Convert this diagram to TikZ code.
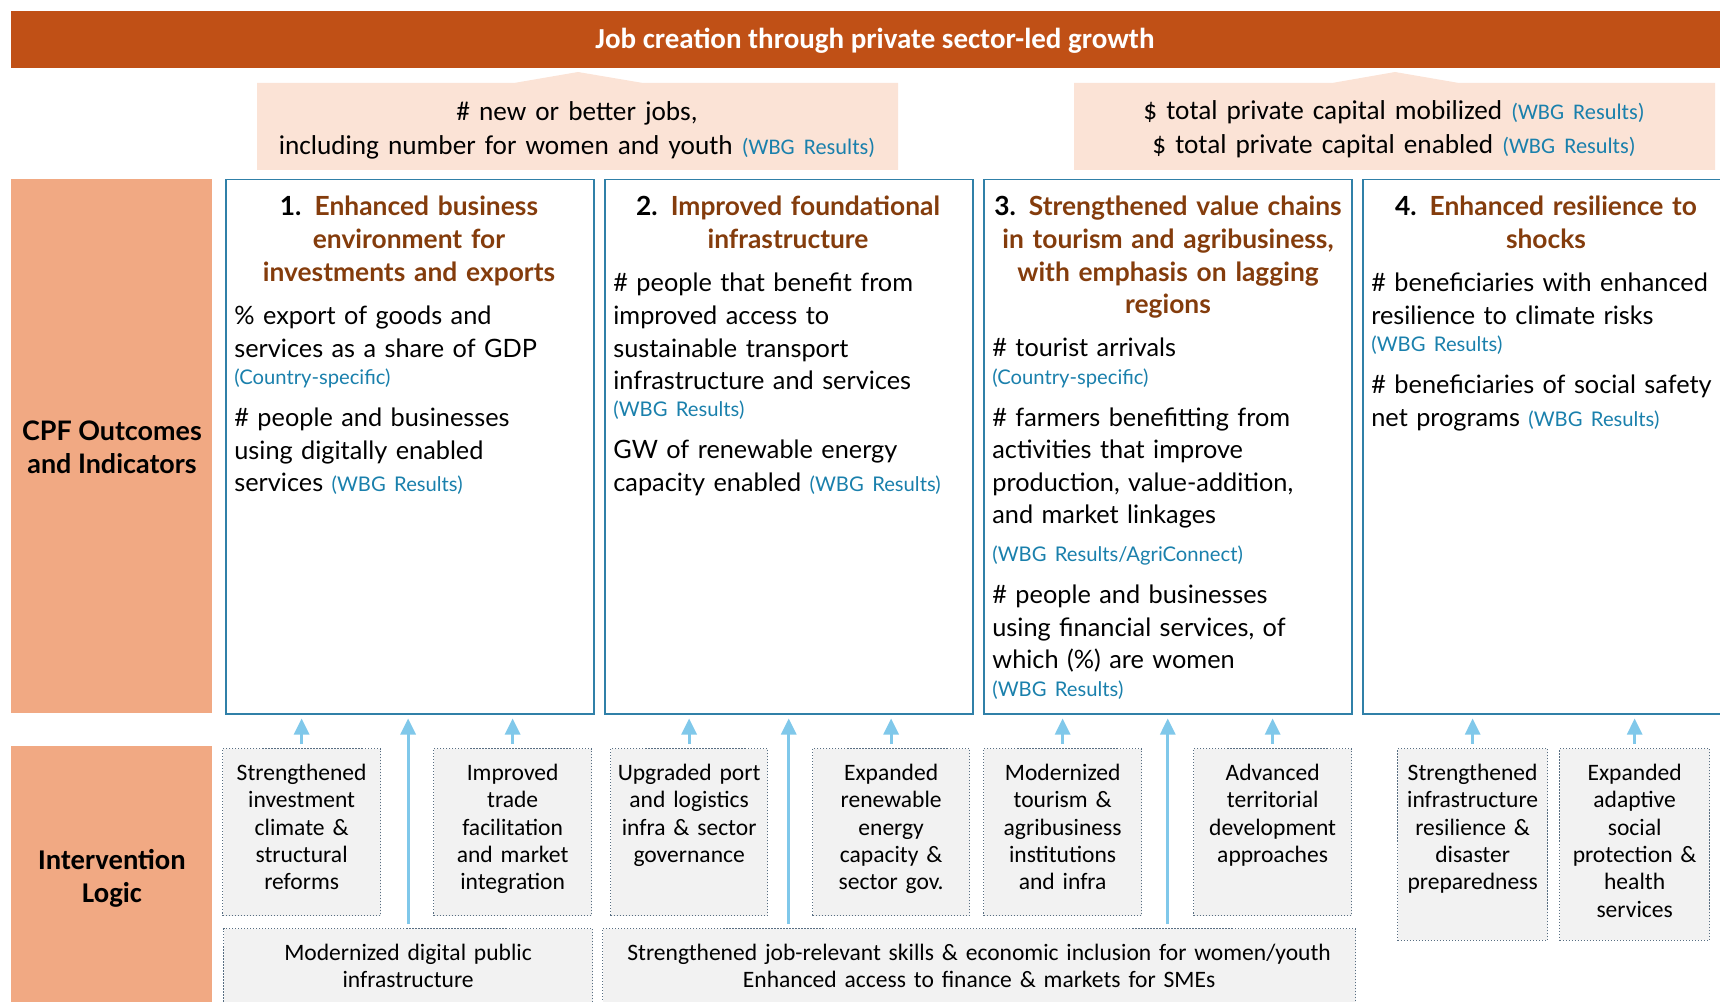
\documentclass[tikz,border=0pt]{standalone}
\usepackage{fontspec}
\setmainfont{Lato}
\newfontfamily\narrowfont{Carlito}
\usetikzlibrary{arrows.meta}

\definecolor{barorange}{RGB}{192,80,22}
\definecolor{peach}{RGB}{251,227,214}
\definecolor{salmon}{RGB}{241,169,131}
\definecolor{boxblue}{RGB}{48,128,168}
\definecolor{headbrown}{RGB}{132,60,12}
\definecolor{srcblue}{RGB}{26,128,172}
\definecolor{arrowblue}{RGB}{128,200,234}
\definecolor{levergray}{RGB}{242,242,242}
\definecolor{dotblue}{RGB}{88,110,130}

\newcommand{\srcnote}[1]{{\fontsize{11.5}{13}\selectfont\color{srcblue}#1}}
\newcommand{\srcnarrow}[1]{{\fontsize{12.7}{14}\selectfont\color{srcblue}#1}}
\newcommand{\idx}[1]{{\color{black}#1}}

\tikzset{
  callout/.style={anchor=base, text width=130mm, align=center, inner sep=0pt,
    font=\narrowfont\fontsize{15.5}{19}\selectfont},
  outcome/.style={draw=boxblue, line width=0.3mm, anchor=north west,
    minimum width=73.6mm, minimum height=106.8mm, inner sep=0pt},
  heading/.style={anchor=base, text width=90mm, align=center, inner sep=0pt,
    text=headbrown, font=\bfseries\fontsize{15}{18.5}\selectfont},
  body/.style={anchor=base west, text width=80mm, align=left, inner sep=0pt,
    font=\fontsize{14.4}{18.5}\selectfont},
  lever/.style={anchor=north west, fill=levergray, draw=dotblue, densely dotted,
    line width=0.25mm, inner sep=0pt, align=center, text height=18pt,
    font=\narrowfont\fontsize{13.4}{15.6}\selectfont},
  uparrow/.style={draw=arrowblue, line width=0.55mm, shorten >=0.8mm, shorten <=0.8mm,
    -{Triangle[width=3mm, length=3.2mm]}},
}

\begin{document}
\begin{tikzpicture}[x=0.2mm, y=-0.2mm]
  \useasboundingbox (0,0) rectangle (1720,1002);

  % goal bar
  \fill [barorange] (11,11) rectangle (1730,68);
  \node [text=white, font=\narrowfont\bfseries\fontsize{16.5}{18}\selectfont] (goal) at (875,41)
    {Job creation through private sector-led growth};

  % high-level indicators
  \fill [peach] (257,83) -- (514,83) -- (578,72) -- (643,83) -- (898,83)
    -- (898,170) -- (257,170) -- cycle;
  \fill [peach] (1074,83) -- (1332,83) -- (1395,72) -- (1459,83) -- (1715,83)
    -- (1715,170) -- (1074,170) -- cycle;
  \node [callout] (jobs) at (577,121)
    {\# new or better jobs,\\including number for women and youth \srcnarrow{(WBG Results)}};
  \node [callout] (capital) at (1394,120)
    {\$ total private capital mobilized \srcnarrow{(WBG Results)}\\\$ total private capital enabled \srcnarrow{(WBG Results)}};

  % row labels
  \fill [salmon] (11,179) rectangle (212,713);
  \fill [salmon] (11,746) rectangle (212,1010);
  \node [font=\bfseries\fontsize{15.3}{18.8}\selectfont, align=center] (cpf) at (112,447)
    {CPF Outcomes\\and Indicators};
  \node [font=\narrowfont\bfseries\fontsize{16.3}{18.8}\selectfont, align=center] (logic) at (112,878)
    {Intervention\\Logic};

  % CPF outcomes
  \node [outcome] (o1) at (225,179) {};
  \node [outcome] (o2) at (604,179) {};
  \node [outcome] (o3) at (983,179) {};
  \node [outcome] (o4) at (1362,179) {};

  \node [heading] (h1) at (409,216) {\idx{1.} Enhanced business\\environment for\\investments and exports};
  \node [heading] (h2) at (788,216) {\idx{2.} Improved foundational\\infrastructure};
  \node [heading] (h3) at (1168,216) {\idx{3.} Strengthened value chains\\in tourism and agribusiness,\\with emphasis on lagging\\regions};
  \node [heading] (h4) at (1546,216) {\idx{4.} Enhanced resilience to\\shocks};

  \node [body] (b1) at (234,325) {\% export of goods and\\services as a share of GDP\\[-3pt]
    \srcnote{(Country-specific)}\\[5.5pt]
    \# people and businesses\\using digitally enabled\\services \srcnote{(WBG Results)}};
  \node [body] (b2) at (613,292) {\# people that benefit from\\improved access to\\sustainable transport\\infrastructure and services\\[-3pt]
    \srcnote{(WBG Results)}\\[5.5pt]
    GW of renewable energy\\capacity enabled \srcnote{(WBG Results)}};
  \node [body] (b3) at (992,357) {\# tourist arrivals\\[-3pt]
    \srcnote{(Country-specific)}\\[5.5pt]
    \# farmers benefitting from\\activities that improve\\production, value-addition,\\and market linkages\\[3pt]
    \srcnote{(WBG Results/AgriConnect)}\\[5.5pt]
    \# people and businesses\\using financial services, of\\which (\%) are women\\[-3pt]
    \srcnote{(WBG Results)}};
  \node [body] (b4) at (1371,292) {\# beneficiaries with enhanced\\resilience to climate risks\\[-3pt]
    \srcnote{(WBG Results)}\\[5.5pt]
    \# beneficiaries of social safety\\net programs \srcnote{(WBG Results)}};

  % intervention logic
  \node [lever, text width=31.6mm, text depth=77pt] (l1) at (222,748) {Strengthened\\investment\\climate \&\\structural\\reforms};
  \node [lever, text width=31.6mm, text depth=77pt] (l2) at (433,748) {Improved\\trade\\facilitation\\and market\\integration};
  \node [lever, text width=31.4mm, text depth=77pt] (l3) at (610,748) {Upgraded port\\and logistics\\infra \& sector\\governance};
  \node [lever, text width=31.4mm, text depth=77pt] (l4) at (812,748) {Expanded\\renewable\\energy\\capacity \&\\sector gov.};
  \node [lever, text width=31.6mm, text depth=77pt] (l5) at (983,748) {Modernized\\tourism \&\\agribusiness\\institutions\\and infra};
  \node [lever, text width=31.6mm, text depth=77pt] (l6) at (1193,748) {Advanced\\territorial\\development\\approaches};
  \node [lever, text width=30mm, text depth=91pt] (l7) at (1397,748) {Strengthened\\infrastructure\\resilience \&\\disaster\\preparedness};
  \node [lever, text width=30mm, text depth=91pt] (l8) at (1559,748) {Expanded\\adaptive\\social\\protection \&\\health\\services};
  \node [lever, text width=73.8mm, text depth=50pt] (l9) at (223,928) {Modernized digital public\\infrastructure};
  \node [lever, text width=150.6mm, text depth=50pt] (l10) at (602,928)
    {Strengthened job-relevant skills \& economic inclusion for women/youth\\Enhanced access to finance \& markets for SMEs};

  % arrows up to outcomes
  \foreach \l/\o in {l1/o1, l2/o1, l3/o2, l4/o2, l5/o3, l6/o3, l7/o4, l8/o4}
    \draw [uparrow] (\l.north) -- (\l.north |- \o.south);
  \draw [uparrow] (l9.north) -- (l9.north |- o1.south);
  \draw [uparrow] (o2.south |- l10.north) -- (o2.south);
  \draw [uparrow] (o3.south |- l10.north) -- (o3.south);
\end{tikzpicture}
\end{document}
